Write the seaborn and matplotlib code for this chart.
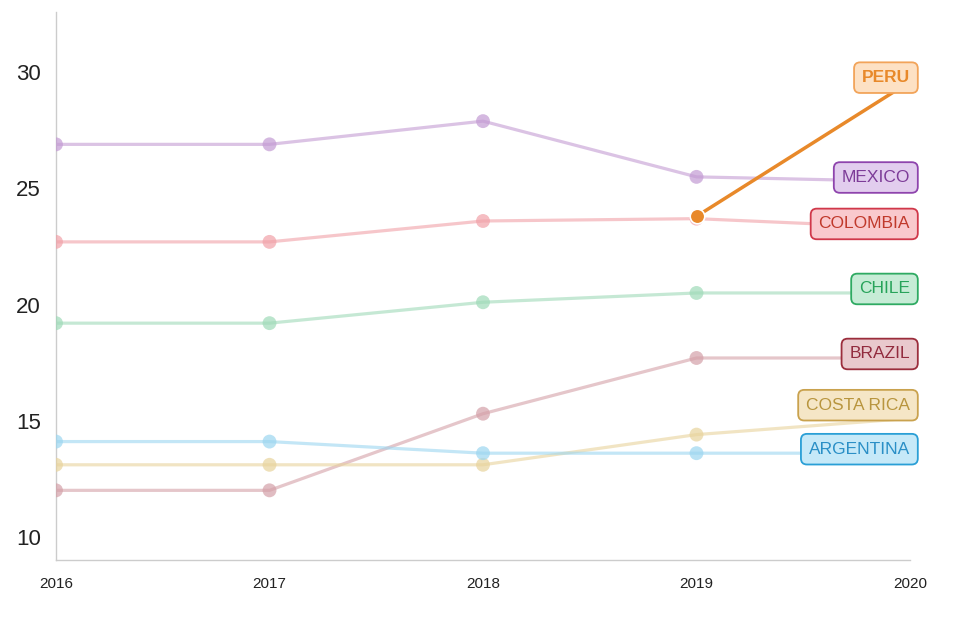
import matplotlib
matplotlib.use("Agg")
import matplotlib.pyplot as plt
import seaborn as sns
import pandas as pd
import numpy as np

years = [2016, 2017, 2018, 2019, 2020]
countries = ["MEXICO", "COLOMBIA", "CHILE", "BRAZIL", "COSTA RICA", "ARGENTINA", "PERU"]
mexico = [26.9, 26.9, 27.9, 25.5, 25.3]
colombia = [22.7, 22.7, 23.6, 23.7, 23.3]
chile = [19.2, 19.2, 20.1, 20.5, 20.5]
brazil = [12.0, 12.0, 15.3, 17.7, 17.7]
costa_rica = [13.1, 13.1, 13.1, 14.4, 15.1]
argentina = [14.1, 14.1, 13.6, 13.6, 13.6]
peru = [None, None, None, 23.8, 29.6]
y_ticks = [10, 15, 20, 25, 30]

series = [mexico, colombia, chile, brazil, costa_rica, argentina, peru]

line_colors = {"MEXICO": "#c39bd3", "COLOMBIA": "#f1a1a8", "CHILE": "#9fdab8",
               "BRAZIL": "#d4a0a8", "COSTA RICA": "#e8d39c", "ARGENTINA": "#9cd6f0",
               "PERU": "#e8892a"}
fill_colors = {"MEXICO": "#e2cdee", "COLOMBIA": "#f9c9cd", "CHILE": "#c6ecd6",
               "BRAZIL": "#e9c9cd", "COSTA RICA": "#f5e6c6", "ARGENTINA": "#c6e9f8",
               "PERU": "#fde1c4"}
edge_colors = {"MEXICO": "#8e44ad", "COLOMBIA": "#d0384a", "CHILE": "#2eaa62",
               "BRAZIL": "#9b2d3c", "COSTA RICA": "#c9a24e", "ARGENTINA": "#2a9fd6",
               "PERU": "#f2a45a"}
text_colors = {"MEXICO": "#7d3c98", "COLOMBIA": "#c0392b", "CHILE": "#27a35a",
               "BRAZIL": "#922b3e", "COSTA RICA": "#b8953e", "ARGENTINA": "#2a8fc6",
               "PERU": "#e8892a"}

rows = []
for c, vals in zip(countries, series):
    for y, v in zip(years, vals):
        if v is not None:
            rows.append({"year": y, "value": v, "country": c})
df = pd.DataFrame(rows)

sns.set_theme(style="white")
plt.rcParams['font.family'] = ['Liberation Sans', 'DejaVu Sans']

fig = plt.figure(figsize=(9.55, 6.2), dpi=100)
ax = fig.add_axes([56/955, 1-560/620, (910-56)/955, (560-12)/620])

others = df[df.country != "PERU"]
sns.lineplot(data=others, x="year", y="value", hue="country", palette=line_colors,
             linewidth=2.3, alpha=0.6, legend=False, ax=ax, zorder=2)
sns.scatterplot(data=others[others.year < 2020], x="year", y="value", hue="country",
                palette=line_colors, s=100, alpha=0.7, edgecolor="none",
                legend=False, ax=ax, zorder=3)
pe = df[df.country == "PERU"]
sns.lineplot(data=pe, x="year", y="value", color=line_colors["PERU"], linewidth=2.5,
             legend=False, ax=ax, zorder=4)
sns.scatterplot(data=pe[pe.year < 2020], x="year", y="value", color=line_colors["PERU"],
                s=110, edgecolor="white", linewidth=1.2, legend=False, ax=ax, zorder=5)

ax.set_xlim(2016, 2020)
ax.set_ylim(9.0, 32.6)
ax.set_xticks(years)
ax.set_xticklabels([str(y) for y in years], fontsize=11, color="#222222")
ax.set_yticks(y_ticks)
ax.set_yticklabels([str(t) for t in y_ticks], fontsize=16, color="#222222")
ax.tick_params(axis="both", which="major", length=0)
ax.tick_params(axis="x", which="major", pad=12)
ax.tick_params(axis="y", which="major", pad=11)
ax.set_xticks([2016, 2020], minor=True)
ax.set_yticks([9.0, 32.6], minor=True)
ax.tick_params(axis="both", which="minor", length=8, width=1, color="#cccccc")
ax.set_xlabel("")
ax.set_ylabel("")
for s in ["top", "right"]:
    ax.spines[s].set_visible(False)
for s in ["left", "bottom"]:
    ax.spines[s].set_color("#cccccc")
    ax.spines[s].set_linewidth(1)

# label positions (pixel space) with simple collision avoidance
trans = ax.transData
last = {c: [v for v in vals if v is not None][-1] for c, vals in zip(countries, series)}
pix = {c: trans.transform((2020, last[c]))[1] + 4 for c in countries}
order = sorted(countries, key=lambda c: pix[c])
min_gap = 44
for i in range(1, len(order)):
    if pix[order[i]] - pix[order[i-1]] < min_gap:
        pix[order[i]] = pix[order[i-1]] + min_gap
inv = trans.inverted()
for c in countries:
    ylab = inv.transform((0, pix[c]))[1]
    ax.annotate(c, xy=(2020, ylab), xytext=(0, 0), textcoords="offset points",
                ha="right", va="center", fontsize=12.5, color=text_colors[c],
                fontweight="bold" if c == "PERU" else "normal",
                bbox=dict(boxstyle="round,pad=0.45,rounding_size=0.35",
                          fc=fill_colors[c], ec=edge_colors[c], lw=1.3),
                zorder=10, annotation_clip=False)

fig.savefig("out.png", dpi=100, facecolor="white")
